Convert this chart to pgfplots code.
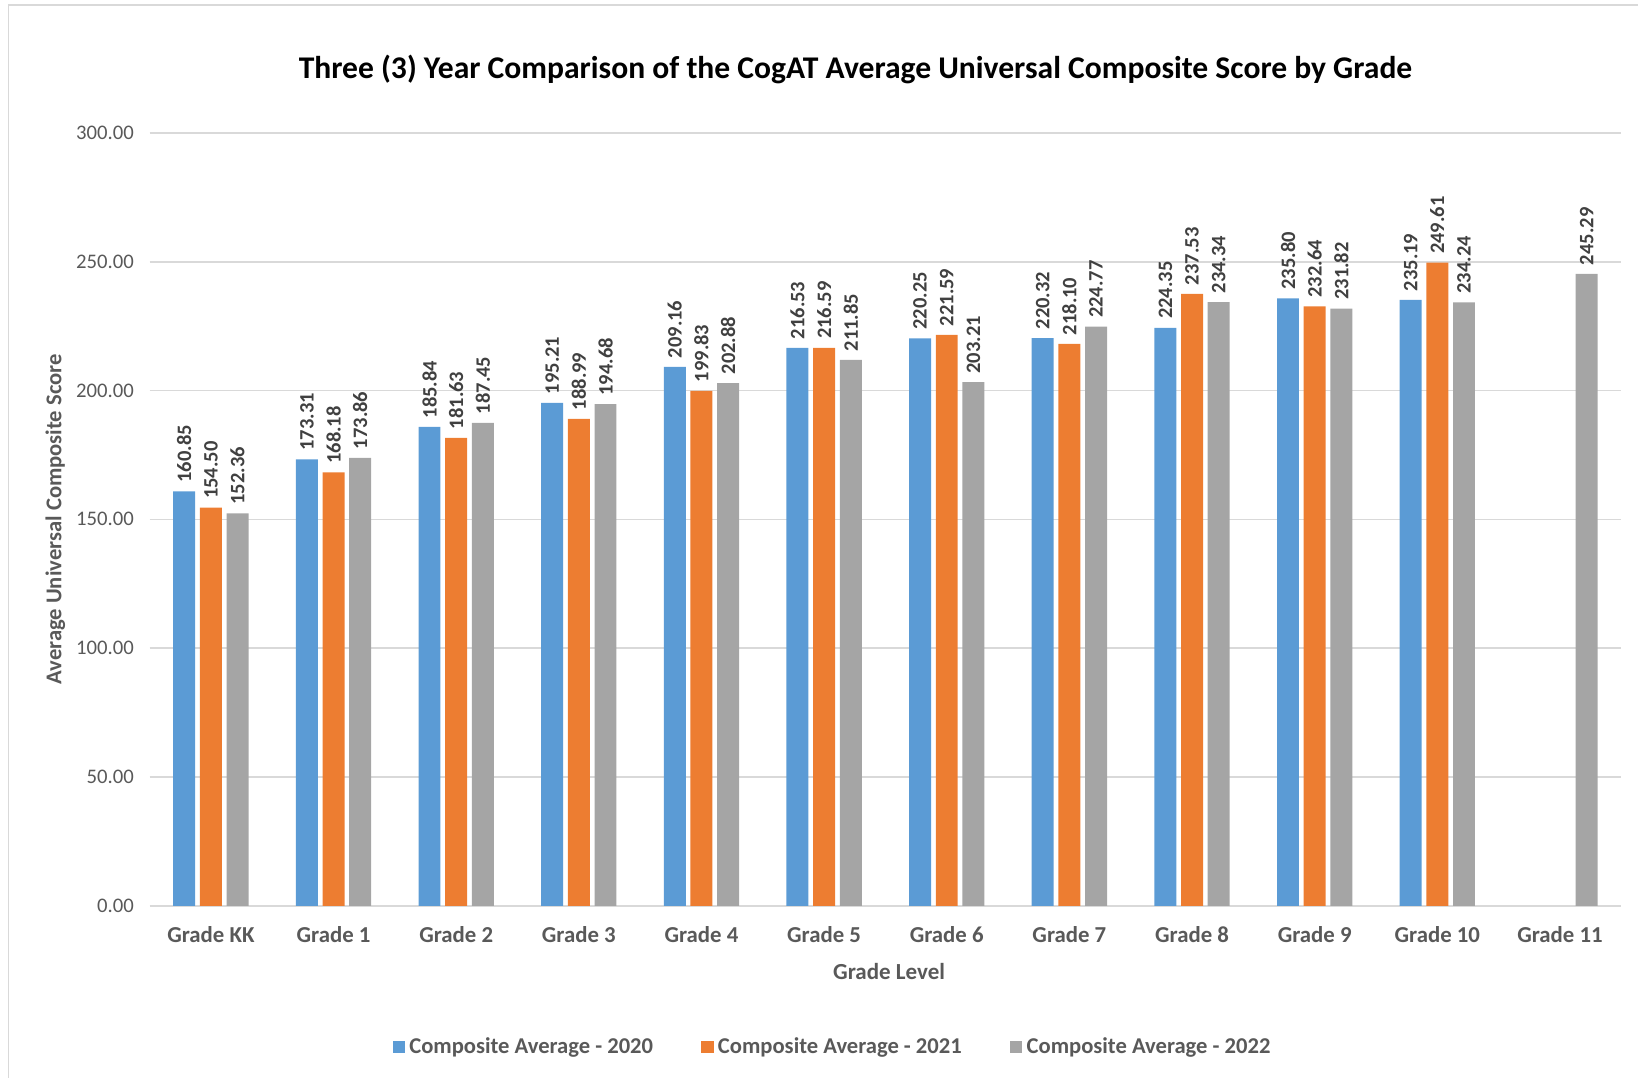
\documentclass[border=0pt]{standalone}
\usepackage{pgfplots}
\pgfplotsset{compat=1.18}
\usepackage{fontspec}
\setmainfont{Carlito}

\definecolor{c2020}{HTML}{5B9BD5}
\definecolor{c2021}{HTML}{ED7D31}
\definecolor{c2022}{HTML}{A5A5A5}
\definecolor{txtgray}{HTML}{595959}
\definecolor{lblgray}{HTML}{404040}
\definecolor{gridgray}{HTML}{D9D9D9}

\begin{document}
\begin{tikzpicture}
\useasboundingbox (-71.5pt,-82pt) rectangle (711.5pt,433pt);
% chart frame
\draw[gridgray, line width=0.8pt] (-67.5pt,-95pt) rectangle (725pt,430.5pt);

\begin{axis}[
  scale only axis,
  width=703.5pt, height=369.5pt,
  ybar=2.25pt, bar width=10.5pt,
  xmin=-0.5, xmax=11.5,
  ymin=0, ymax=300,
  xtick={0,...,11},
  xticklabels={Grade KK,Grade 1,Grade 2,Grade 3,Grade 4,Grade 5,Grade 6,Grade 7,Grade 8,Grade 9,Grade 10,Grade 11},
  ytick={0,50,...,300},
  major tick length=0pt,
  axis line style={draw=none},
  ymajorgrids, grid style={gridgray, line width=0.8pt},
  /pgf/number format/assume math mode=true,
  yticklabel={\pgfmathprintnumber[fixed,fixed zerofill,precision=2]{\tick}},
  yticklabel style={font=\fontsize{9.9}{11}\selectfont, text=txtgray, xshift=-4pt},
  xticklabel style={font=\bfseries\fontsize{10.9}{12}\selectfont, text=txtgray, yshift=-6.5pt},
  title={Three (3) Year Comparison of the CogAT Average Universal Composite Score by Grade},
  title style={font=\bfseries\fontsize{15.1}{17}\selectfont, text=black, at={(axis description cs:0.4797,1.0663)}, anchor=center},
  xlabel={Grade Level},
  xlabel style={font=\bfseries\fontsize{11}{13}\selectfont, text=txtgray, at={(axis description cs:0.5025,-0.0853)}, anchor=center},
  ylabel={Average Universal Composite Score},
  ylabel style={font=\bfseries\fontsize{10.8}{12}\selectfont, text=txtgray, at={(axis description cs:-0.064,0.5)}, anchor=center, rotate=0},
  nodes near coords={\pgfmathprintnumber[fixed,fixed zerofill,precision=2]{\pgfplotspointmeta}},
  every node near coord/.append style={rotate=90, anchor=west, font=\bfseries\fontsize{9.8}{11}\selectfont, text=lblgray, inner xsep=4pt},
  legend columns=3,
  legend style={at={(0.4648,-0.1827)}, anchor=center, draw=none, fill=none,
    font=\bfseries\fontsize{10.8}{12}\selectfont, text=txtgray,
    /tikz/every even column/.append style={column sep=21pt}},
  legend image code/.code={\fill[#1] (0pt,-3pt) rectangle (6pt,3pt);},
]
\addplot[fill=c2020, draw=none] coordinates {
(0,160.85) (1,173.31) (2,185.84) (3,195.21) (4,209.16) (5,216.53)
(6,220.25) (7,220.32) (8,224.35) (9,235.80) (10,235.19)
};
\addplot[fill=c2021, draw=none] coordinates {
(0,154.50) (1,168.18) (2,181.63) (3,188.99) (4,199.83) (5,216.59)
(6,221.59) (7,218.10) (8,237.53) (9,232.64) (10,249.61)
};
\addplot[fill=c2022, draw=none] coordinates {
(0,152.36) (1,173.86) (2,187.45) (3,194.68) (4,202.88) (5,211.85)
(6,203.21) (7,224.77) (8,234.34) (9,231.82) (10,234.24) (11,245.29)
};
\legend{Composite Average - 2020, Composite Average - 2021, Composite Average - 2022}
\end{axis}
\end{tikzpicture}
\end{document}
